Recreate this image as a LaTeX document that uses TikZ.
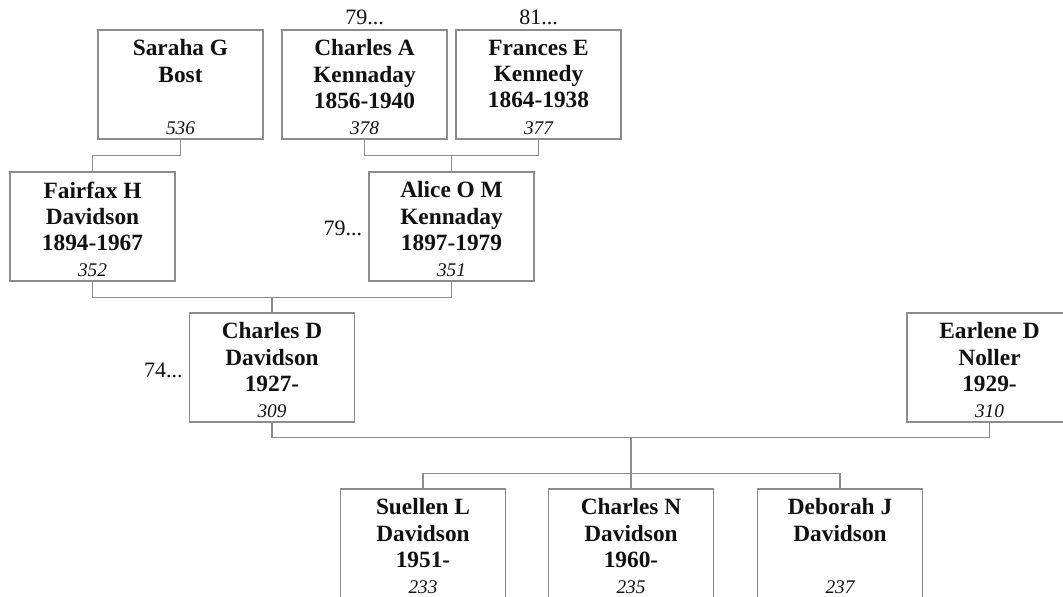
\documentclass[tikz,border=0pt]{standalone}
\usepackage{fontspec}
\setmainfont{Liberation Serif}
\usetikzlibrary{positioning,calc}
\definecolor{treeGrey}{HTML}{8C8C8C}
\definecolor{treeInk}{HTML}{111111}
% one person: box, name lines on top, record number at the bottom
\newcommand{\person}[5]{%
  \node[pb] (#1) at (#2,#3) {};
  \node[nm, below=7.5pt of #1.north] (#1-n) {#4};
  \node[rid, anchor=base] (#1-k) at ($(#1.south)+(0,-5)$) {#5};}

\begin{document}
\begin{tikzpicture}[x=0.75pt, y=-0.75pt,
      pb/.style={draw=treeGrey, line width=0.8pt, minimum width=123.75pt,
        minimum height=81.75pt, inner sep=0pt},
      nm/.style={align=center, inner sep=0pt, color=treeInk,
        font=\fontsize{17.5}{19.6}\selectfont\bfseries},
      rid/.style={inner sep=0pt, color=treeInk,
        font=\fontsize{14.5}{16}\selectfont\itshape},
      more/.style={inner sep=0pt, color=treeInk,
        font=\fontsize{16.5}{18}\selectfont},
      link/.style={draw=treeGrey, line width=0.8pt}]
    \useasboundingbox (0,0) rectangle (1063,596);
    \clip (0,0) rectangle (1063,596);
    % row 1: great-grandparents
    \person{saraha}{180.5}{84.5}{Saraha G\\Bost}{536}
    \person{charlesA}{364.5}{84.5}{Charles A\\Kennaday\\1856-1940}{378}
    \person{frances}{538.5}{84.5}{Frances E\\Kennedy\\1864-1938}{377}
    \node[more, anchor=base] (charlesA-up) at ($(charlesA.north)+(0,-5)$) {79...};
    \node[more, anchor=base] (frances-up) at ($(frances.north)+(0,-5)$) {81...};
    % row 2: grandparents
    \person{fairfax}{92.5}{226.5}{Fairfax H\\Davidson\\1894-1967}{352}
    \person{alice}{451.5}{226.5}{Alice O M\\Kennaday\\1897-1979}{351}
    \node[more, anchor=base east] (alice-up) at ($(alice.west)+(-6,9)$) {79...};
    % row 3: parents
    \person{charlesD}{272}{367.5}{Charles D\\Davidson\\1927-}{309}
    \person{earlene}{989.5}{367.5}{Earlene D\\Noller\\1929-}{310}
    \node[more, anchor=base east] (charlesD-up) at ($(charlesD.west)+(-6,10)$) {74...};
    % row 4: children
    \person{suellen}{423}{543.5}{Suellen L\\Davidson\\1951-}{233}
    \person{charlesN}{631}{543.5}{Charles N\\Davidson\\1960-}{235}
    \person{deborah}{840}{543.5}{Deborah J\\Davidson}{237}
    % connectors
    \draw[link] (saraha.south) -- ++(0,16) -| (fairfax.north);
    \draw[link] (charlesA.south) -- ++(0,16) -| (frances.south);
    \coordinate (m1) at ($(charlesA.south)!0.5!(frances.south)+(0,16)$);
    \draw[link] (alice.north |- m1) -- (alice.north);
    \draw[link] (fairfax.south) -- ++(0,16) -| (alice.south);
    \coordinate (m2) at ($(fairfax.south)!0.5!(alice.south)+(0,16)$);
    \draw[link] (charlesD.north |- m2) -- (charlesD.north);
    \draw[link] (charlesD.south) -- ++(0,15) -| (earlene.south);
    \coordinate (m3) at ($(charlesD.south)!0.5!(earlene.south)+(0,15)$);
    \coordinate (kids) at ($(m3)+(0,36)$);
    \draw[link] (charlesN.north |- m3) -- (charlesN.north);
    \draw[link] (suellen.north) -- (suellen.north |- kids) -- (deborah.north |- kids) -- (deborah.north);
  \end{tikzpicture}
\end{document}
